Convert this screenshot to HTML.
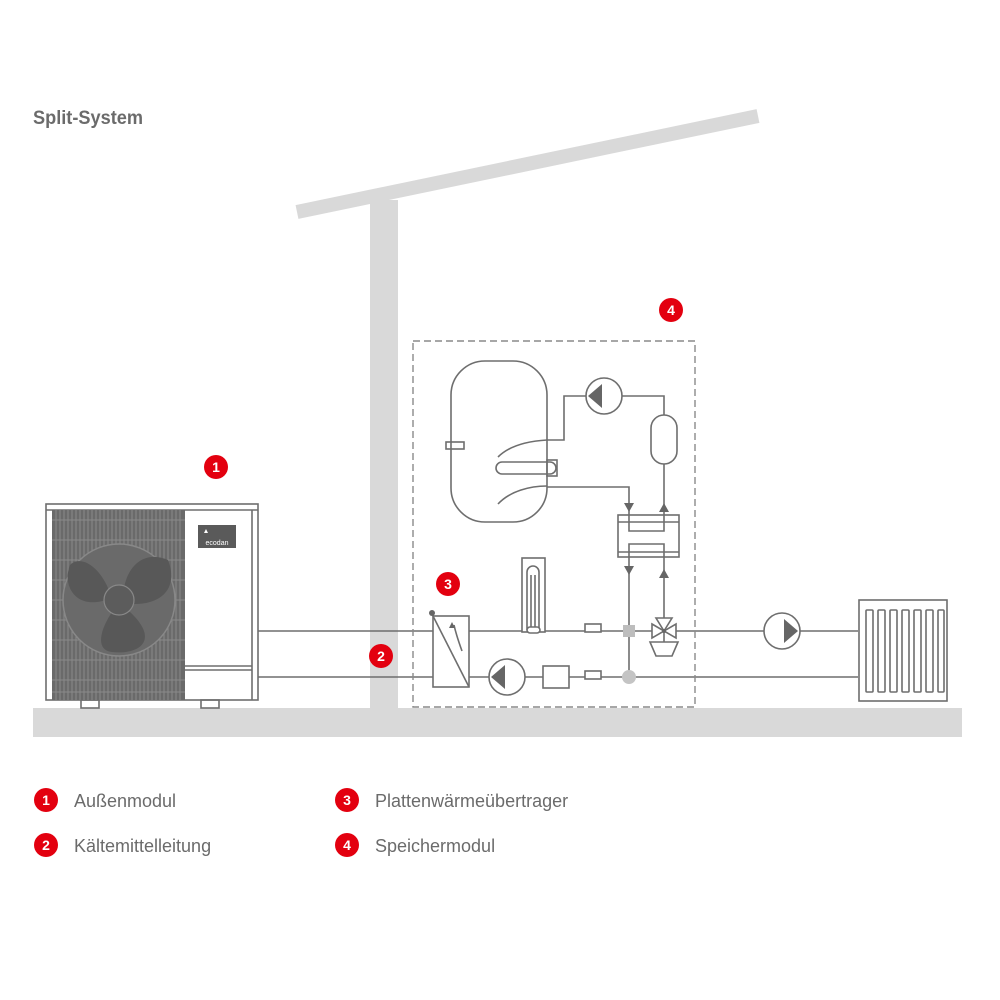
<!DOCTYPE html>
<html><head><meta charset="utf-8"><style>
html,body{margin:0;padding:0;background:#fff;}
svg{display:block;}
text{font-family:"Liberation Sans Narrow","Liberation Sans",sans-serif;}
</style></head><body>
<svg width="1000" height="1000" viewBox="0 0 1000 1000" xmlns="http://www.w3.org/2000/svg">
<text x="33" y="124" font-size="19" font-weight="bold" fill="#6b6b6b" textLength="110" lengthAdjust="spacingAndGlyphs">Split-System</text>
<line x1="297" y1="212" x2="758" y2="116" stroke="#d9d9d9" stroke-width="14"/>
<rect x="370" y="200" width="28" height="510" fill="#d9d9d9"/>
<rect x="33" y="708" width="929" height="29" fill="#d9d9d9"/>
<g stroke="#6e6e6e" stroke-width="1.6" fill="none">
<line x1="258" y1="631" x2="858" y2="631"/>
<line x1="258" y1="677" x2="858" y2="677"/>
<rect x="46" y="504" width="212" height="196" fill="#fff"/>
<line x1="46" y1="510" x2="258" y2="510"/>
<line x1="252" y1="510" x2="252" y2="700"/>
<line x1="185" y1="666" x2="252" y2="666"/>
<line x1="185" y1="670" x2="252" y2="670"/>
<rect x="81" y="700" width="18" height="8"/>
<rect x="201" y="700" width="18" height="8"/>
</g>
<rect x="52" y="510" width="133" height="190" fill="#6a6a6a"/>
<g stroke="#8a8a8a" stroke-width="1">
<path d="M56 510V700M60 510V700M64 510V700M68 510V700M72 510V700M76 510V700M80 510V700M84 510V700M88 510V700M92 510V700M96 510V700M100 510V700M104 510V700M108 510V700M112 510V700M116 510V700M120 510V700M124 510V700M128 510V700M132 510V700M136 510V700M140 510V700M144 510V700M148 510V700M152 510V700M156 510V700M160 510V700M164 510V700M168 510V700M172 510V700M176 510V700M180 510V700"/>
<path d="M52 520H185M52 540H185M52 560H185M52 580H185M52 600H185M52 620H185M52 640H185M52 660H185M52 680H185M52 692H185"/>
</g>
<circle cx="119" cy="600" r="56" fill="#6a6a6a" stroke="#888" stroke-width="1.5"/>
<g fill="#585858">
<path d="M108 588 C98 565 80 555 70 565 C62 585 75 610 106 600Z"/>
<path d="M124 588 C128 565 145 550 168 560 C178 585 165 605 132 604Z"/>
<path d="M112 612 C100 630 95 650 112 652 C140 655 160 640 130 612Z"/>
</g>
<circle cx="119" cy="600" r="15" fill="#5c5c5c" stroke="#888" stroke-width="1.2"/>
<rect x="198" y="525" width="38" height="23" fill="#5a5a5a"/>
<text x="217" y="545" font-size="7" fill="#fff" text-anchor="middle">ecodan</text>
<path d="M204 533l2-4 2 4z" fill="#fff"/>
<rect x="413" y="341" width="282" height="366" fill="none" stroke="#8a8a8a" stroke-width="1.4" stroke-dasharray="7,4"/>
<g stroke="#6e6e6e" stroke-width="1.6" fill="none">
<rect x="451" y="361" width="96" height="161" rx="34"/>
<rect x="446" y="442" width="18" height="7"/>
<path d="M498 457 C510 445 530 441 547 440"/>
<path d="M498 504 C510 491 530 486 547 486"/>
<rect x="496" y="462" width="60" height="12" rx="6"/>
<rect x="547" y="460" width="10" height="16"/>
<polyline points="547,440 564,440 564,396 586,396"/>
<polyline points="622,396 664,396 664,415"/>
<rect x="651" y="415" width="26" height="49" rx="13"/>
<line x1="664" y1="464" x2="664" y2="515"/>
<polyline points="547,487 629,487 629,515"/>
<rect x="618" y="515" width="61" height="42"/>
<line x1="618" y1="522" x2="679" y2="522"/>
<line x1="618" y1="552" x2="679" y2="552"/>
<polyline points="629,515 629,531 664,531 664,515"/>
<polyline points="629,557 629,544 664,544 664,557"/>
<line x1="629" y1="557" x2="629" y2="677"/>
<line x1="664" y1="557" x2="664" y2="618"/>
<circle cx="604" cy="396" r="18" fill="#fff"/>
<circle cx="507" cy="677" r="18" fill="#fff"/>
<circle cx="782" cy="631" r="18" fill="#fff"/>
<rect x="522" y="558" width="23" height="74" fill="#fff"/>
<path d="M527 630V572a6 6 0 0 1 12 0V630M531 630V575M535 630V575" />
<rect x="527" y="627" width="13" height="6" rx="3" fill="#fff"/>
<rect x="585" y="624" width="16" height="8" fill="#fff"/>
<rect x="585" y="671" width="16" height="8" fill="#fff"/>
<rect x="543" y="666" width="26" height="22" fill="#fff"/>
<rect x="433" y="616" width="36" height="71" fill="#fff"/>
<line x1="432" y1="614" x2="469" y2="687"/>
<path d="M462 651 C458 640 456 634 454 625"/>
<path d="M652 624 L676 638 L676 624 L652 638Z" fill="#fff"/>
<path d="M656 618 L672 618 L664 631Z" fill="#fff"/>
<line x1="664" y1="631" x2="664" y2="642"/>
<path d="M650 642 H678 L672 656 H656Z" fill="#fff"/>
<rect x="859" y="600" width="88" height="101" fill="#fff"/>
<rect x="866" y="610" width="7" height="82" rx="1"/>
<rect x="878" y="610" width="7" height="82" rx="1"/>
<rect x="890" y="610" width="7" height="82" rx="1"/>
<rect x="902" y="610" width="7" height="82" rx="1"/>
<rect x="914" y="610" width="7" height="82" rx="1"/>
<rect x="926" y="610" width="7" height="82" rx="1"/>
<rect x="938" y="610" width="6" height="82" rx="1"/>
</g>
<g fill="#666">
<circle cx="432" cy="613" r="3"/>
<path d="M452 622l-3 6h6z"/>
<path d="M588 396l14-12v24z"/>
<path d="M491 677l14-12v24z"/>
<path d="M798 631l-14-12v24z"/>
<path d="M624 503h10l-5 9z"/>
<path d="M659 512h10l-5-9z"/>
<path d="M624 566h10l-5 9z"/>
<path d="M659 578h10l-5-9z"/>
<circle cx="664" cy="631" r="2"/>
</g>
<rect x="623" y="625" width="12" height="12" fill="#bdbdbd"/>
<circle cx="629" cy="677" r="7" fill="#c4c4c4"/>
<g font-family="Liberation Sans,sans-serif" font-weight="bold" font-size="14" fill="#fff" text-anchor="middle">
<circle cx="216" cy="467" r="12" fill="#e3000f"/><text x="216" y="472">1</text>
<circle cx="381" cy="656" r="12" fill="#e3000f"/><text x="381" y="661">2</text>
<circle cx="448" cy="584" r="12" fill="#e3000f"/><text x="448" y="589">3</text>
<circle cx="671" cy="310" r="12" fill="#e3000f"/><text x="671" y="315">4</text>
<circle cx="46" cy="800" r="12" fill="#e3000f"/><text x="46" y="805">1</text>
<circle cx="46" cy="845" r="12" fill="#e3000f"/><text x="46" y="850">2</text>
<circle cx="347" cy="800" r="12" fill="#e3000f"/><text x="347" y="805">3</text>
<circle cx="347" cy="845" r="12" fill="#e3000f"/><text x="347" y="850">4</text>
</g>
<g font-size="18" fill="#6b6b6b">
<text x="74" y="807">Außenmodul</text>
<text x="74" y="852">Kältemittelleitung</text>
<text x="375" y="807">Plattenwärmeübertrager</text>
<text x="375" y="852">Speichermodul</text>
</g>
</svg>
</body></html>
